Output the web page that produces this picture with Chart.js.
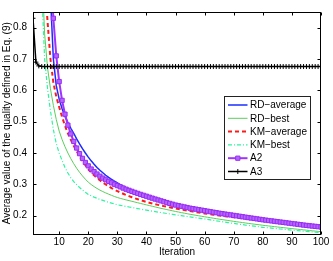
<!DOCTYPE html>
<html><head><meta charset="utf-8">
<script src="https://cdn.jsdelivr.net/npm/chart.js@4.4.1/dist/chart.umd.min.js"></script>
<style>html,body{margin:0;padding:0;background:#fff;}#wrap{width:333px;height:261px;}</style>
</head><body><div id="wrap"><canvas id="c" width="333" height="261"></canvas></div>
<script>
const iterations = [1,2,3,4,5,6,7,8,9,10,11,12,13,14,15,16,17,18,19,20,21,22,23,24,25,26,27,28,29,30,31,32,33,34,35,36,37,38,39,40,41,42,43,44,45,46,47,48,49,50,51,52,53,54,55,56,57,58,59,60,61,62,63,64,65,66,67,68,69,70,71,72,73,74,75,76,77,78,79,80,81,82,83,84,85,86,87,88,89,90,91,92,93,94,95,96,97,98,99,100];

const rdAverage = [3.3,2.7,2.2,1.8,1.45,1.15,0.9,0.7,0.615,0.572,
0.541,0.517,0.497,0.479,0.463,0.445,0.429,0.414,0.4,0.387,
0.375,0.364,0.354,0.345,0.337,0.329,0.322,0.316,0.31,0.3045,
0.299,0.294,0.2895,0.285,0.2808,0.2768,0.273,0.2693,0.2658,0.2625,
0.2595,0.2565,0.2535,0.2505,0.2477,0.245,0.2424,0.2398,0.2373,0.2348,
0.2326,0.2304,0.2283,0.2262,0.2242,0.2223,0.2204,0.2186,0.2168,0.2151,
0.2134,0.2118,0.2102,0.2086,0.207,0.2055,0.204,0.2026,0.2012,0.1998,
0.1984,0.197,0.1956,0.1943,0.193,0.1917,0.1904,0.1891,0.1878,0.1865,
0.1853,0.1841,0.1829,0.1817,0.1805,0.1793,0.1781,0.177,0.1759,0.1748,
0.1737,0.1726,0.1715,0.1704,0.1693,0.1683,0.1673,0.1663,0.1653,0.1643];

const rdBest = [3.0,2.0,1.4,1.0,0.78,0.672,0.605,0.552,0.507,0.47,
0.443,0.42,0.4,0.382,0.366,0.3515,0.3385,0.327,0.3165,0.307,
0.2995,0.2929,0.2869,0.2817,0.277,0.2727,0.2687,0.2649,0.2613,0.258,
0.2553,0.2528,0.2504,0.2481,0.246,0.2436,0.2413,0.239,0.2367,0.2345,
0.2323,0.2301,0.2279,0.2257,0.2235,0.2215,0.2195,0.2175,0.2155,0.2135,
0.2117,0.2099,0.2081,0.2063,0.2045,0.2029,0.2013,0.1997,0.1981,0.1965,
0.195,0.1935,0.192,0.1905,0.189,0.1876,0.1862,0.1848,0.1834,0.182,
0.1807,0.1794,0.1781,0.1768,0.1755,0.1743,0.1731,0.1719,0.1707,0.1695,
0.1684,0.1673,0.1662,0.1651,0.164,0.163,0.1619,0.1609,0.1598,0.1588,
0.1578,0.1568,0.1558,0.1548,0.1538,0.1528,0.1519,0.1509,0.15,0.149];

const kmAverage = [2.4,1.8,1.4,1.12,0.95,0.82,0.7,0.625,0.58,0.547,
0.515,0.487,0.463,0.442,0.423,0.406,0.39,0.375,0.361,0.348,
0.338,0.329,0.3205,0.313,0.306,0.2995,0.2935,0.288,0.283,0.2785,
0.2742,0.2701,0.2662,0.2625,0.259,0.2557,0.2525,0.2495,0.2467,0.244,
0.2415,0.2391,0.2368,0.2346,0.2325,0.2305,0.2285,0.2266,0.2248,0.223,
0.2212,0.2195,0.2178,0.2162,0.2146,0.2131,0.2116,0.2101,0.2087,0.2073,
0.2059,0.2046,0.2033,0.202,0.2007,0.1995,0.1983,0.1971,0.1959,0.1947,
0.1936,0.1925,0.1914,0.1903,0.1892,0.1881,0.1871,0.1861,0.1851,0.1841,
0.183,0.182,0.181,0.18,0.179,0.178,0.177,0.176,0.1751,0.1742,
0.1732,0.1722,0.1712,0.1702,0.1692,0.1682,0.1672,0.1662,0.1652,0.1642];

const kmBest = [3.0,2.0,1.3,0.92,0.7,0.605,0.535,0.475,0.43,0.4,
0.376,0.354,0.336,0.321,0.309,0.299,0.29,0.282,0.2745,0.268,
0.2635,0.2593,0.2555,0.252,0.2488,0.2457,0.2428,0.24,0.2374,0.235,
0.2331,0.2313,0.2295,0.2278,0.2261,0.2244,0.2227,0.221,0.2194,0.2178,
0.2162,0.2146,0.2131,0.2116,0.2101,0.2086,0.2071,0.2057,0.2043,0.2029,
0.2015,0.2001,0.1987,0.1974,0.1961,0.1948,0.1935,0.1922,0.1909,0.1896,
0.1881,0.1866,0.1851,0.1837,0.1823,0.1809,0.1795,0.1781,0.1767,0.1754,
0.1741,0.1728,0.1715,0.1702,0.169,0.1678,0.1666,0.1654,0.1642,0.163,
0.1621,0.1612,0.1603,0.1594,0.1585,0.1576,0.1567,0.1558,0.1549,0.154,
0.1532,0.1524,0.1516,0.1508,0.15,0.1492,0.1484,0.1476,0.1468,0.146];

const a2 = [3.0,2.5,2.1,1.75,1.45,1.2,1.0,0.83,0.71,0.628,
0.568,0.524,0.489,0.461,0.437,0.416,0.398,0.383,0.37,0.359,
0.349,0.3405,0.333,0.326,0.32,0.3145,0.3095,0.3048,0.3003,0.296,
0.292,0.2882,0.2845,0.281,0.2776,0.2743,0.2711,0.268,0.265,0.2621,
0.259,0.256,0.2531,0.2502,0.2474,0.2446,0.2419,0.2392,0.2366,0.234,
0.232,0.23,0.228,0.226,0.224,0.2224,0.2208,0.2192,0.2176,0.216,
0.2144,0.2128,0.2112,0.2096,0.208,0.2066,0.2052,0.2038,0.2024,0.201,
0.1996,0.1982,0.1968,0.1954,0.194,0.1926,0.1912,0.1898,0.1884,0.187,
0.1858,0.1846,0.1834,0.1822,0.181,0.1798,0.1786,0.1774,0.1762,0.175,
0.1738,0.1726,0.1714,0.1702,0.169,0.168,0.167,0.166,0.165,0.164];

const a3 = [0.83,0.69,0.678,0.676,0.676,0.676,0.676,0.676,0.676,0.676,
0.676,0.676,0.676,0.676,0.676,0.676,0.676,0.676,0.676,0.676,
0.676,0.676,0.676,0.676,0.676,0.676,0.676,0.676,0.676,0.676,
0.676,0.676,0.676,0.676,0.676,0.676,0.676,0.676,0.676,0.676,
0.676,0.676,0.676,0.676,0.676,0.676,0.676,0.676,0.676,0.676,
0.676,0.676,0.676,0.676,0.676,0.676,0.676,0.676,0.676,0.676,
0.676,0.676,0.676,0.676,0.676,0.676,0.676,0.676,0.676,0.676,
0.676,0.676,0.676,0.676,0.676,0.676,0.676,0.676,0.676,0.676,
0.676,0.676,0.676,0.676,0.676,0.676,0.676,0.676,0.676,0.676,
0.676,0.676,0.676,0.676,0.676,0.676,0.676,0.676,0.676,0.676];

const xTickValues = [10,20,30,40,50,60,70,80,90,100];
const yTickValues = [0.2,0.3,0.4,0.5,0.6,0.7,0.8];
const seriesNames = ['RD\u2212average','RD\u2212best','KM\u2212average','KM\u2212best','A2','A3'];
const xTitle = 'Iteration';
const yTitle = 'Average value of the quality defined in Eq. (9)';

const FONT = '"Liberation Sans", Arial, Helvetica, sans-serif';

function pts(vals){ return iterations.map((x,i)=>({x:x,y:vals[i]})); }

const frame = {
  id:'frame',
  afterDraw(chart){
    const ctx = chart.ctx, a = chart.chartArea, xs = chart.scales.x, ys = chart.scales.y;
    ctx.save();
    ctx.strokeStyle = '#000'; ctx.lineWidth = 1; ctx.setLineDash([]);
    const L = Math.round(a.left)+0.5, R = Math.round(a.right)-0.5, T = Math.round(a.top)+0.5, B = Math.round(a.bottom)-0.5;
    ctx.strokeRect(L, T, R-L, B-T);
    ctx.beginPath();
    const tl = 3;
    xTickValues.forEach(v=>{const px=Math.round(xs.getPixelForValue(v))+0.5; ctx.moveTo(px,B); ctx.lineTo(px,B-tl); ctx.moveTo(px,T); ctx.lineTo(px,T+tl);});
    yTickValues.forEach(v=>{const py=Math.round(ys.getPixelForValue(v))+0.5; ctx.moveTo(L,py); ctx.lineTo(L+tl,py); ctx.moveTo(R,py); ctx.lineTo(R-tl,py);});
    ctx.stroke();
    // legend box
    const bx = Math.round(a.right) - 96.5, by = Math.round(a.top) + 84.5, bw = 86, bh = 83;
    ctx.fillStyle = '#fff'; ctx.fillRect(bx, by, bw, bh);
    ctx.strokeStyle = '#222'; ctx.strokeRect(bx, by, bw, bh);
    ctx.font = '10px ' + FONT; ctx.textBaseline = 'middle'; ctx.textAlign = 'left';
    chart.data.datasets.forEach((ds,i)=>{
      const yy = by + 8.5 + i*13.3;
      ctx.save();
      ctx.strokeStyle = ds.borderColor; ctx.lineWidth = ds.borderWidth;
      ctx.setLineDash(ds.borderDash || []);
      ctx.beginPath(); ctx.moveTo(bx+3.5, yy); ctx.lineTo(bx+23, yy); ctx.stroke();
      ctx.setLineDash([]);
      if (ds.pointRadius > 0) {
        ctx.fillStyle = ds.pointBackgroundColor; ctx.strokeStyle = ds.pointBorderColor; ctx.lineWidth = ds.pointBorderWidth;
        Chart.helpers.drawPoint(ctx, {pointStyle: ds.pointStyle, radius: ds.pointRadius, rotation: 0, borderWidth: ds.pointBorderWidth}, bx+13.3, yy);
      }
      ctx.restore();
      ctx.fillStyle = '#000';
      ctx.fillText(ds.label, bx+25.5, yy+0.5);
    });
    ctx.restore();
  }
};

const datasets = [
  {label: seriesNames[0], data: pts(rdAverage), borderColor:'#1a2cff', borderWidth:1.5, pointRadius:0, order:6},
  {label: seriesNames[1], data: pts(rdBest), borderColor:'#5ccd5c', borderWidth:1, pointRadius:0, order:5},
  {label: seriesNames[2], data: pts(kmAverage), borderColor:'#ff1a1a', borderWidth:2, borderDash:[4,3], pointRadius:0, order:4},
  {label: seriesNames[3], data: pts(kmBest), borderColor:'#2cf5a0', borderWidth:1.2, borderDash:[4,2,1,2], pointRadius:0, order:3},
  {label: seriesNames[4], data: pts(a2), borderColor:'#a033ff', borderWidth:2, pointStyle:'rect', pointRadius:3, pointBackgroundColor:'#b366ff', pointBorderColor:'#9a2cf5', pointBorderWidth:1, order:2},
  {label: seriesNames[5], data: pts(a3), borderColor:'#000', borderWidth:1.5, pointStyle:'cross', pointRadius:2.5, pointBackgroundColor:'#000', pointBorderColor:'#000', pointBorderWidth:1, order:1}
];

new Chart(document.getElementById('c'), {
  type:'line',
  data:{datasets},
  options:{
    responsive:false, animation:false, devicePixelRatio:1,
    layout:{padding:{left:0,right:12,top:7,bottom:0}},
    elements:{line:{tension:0}},
    plugins:{legend:{display:false}, tooltip:{enabled:false}},
    scales:{
      x:{type:'linear', min:1, max:100,
        grid:{display:false, drawTicks:false}, border:{display:false},
        afterBuildTicks(s){ s.ticks = xTickValues.map(v=>({value:v})); },
        afterFit(s){ s.height = 26.5; },
        ticks:{autoSkip:false, maxRotation:0, padding:2, color:'#000', font:{family:FONT, size:10}},
        title:{display:true, text:xTitle, color:'#000', font:{family:FONT, size:10}, padding:{top:0,bottom:3}}
      },
      y:{type:'linear', min:0.14, max:0.85,
        grid:{display:false, drawTicks:false}, border:{display:false},
        afterBuildTicks(s){ s.ticks = yTickValues.map(v=>({value:v})); },
        afterFit(s){ s.width = 33; },
        ticks:{padding:6, color:'#000', font:{family:FONT, size:10}, callback:(v)=>v.toFixed(1)},
        title:{display:true, text:yTitle, color:'#000', font:{family:FONT, size:10}, padding:{top:1,bottom:0}}
      }
    }
  },
  plugins:[frame]
});
</script></body></html>
